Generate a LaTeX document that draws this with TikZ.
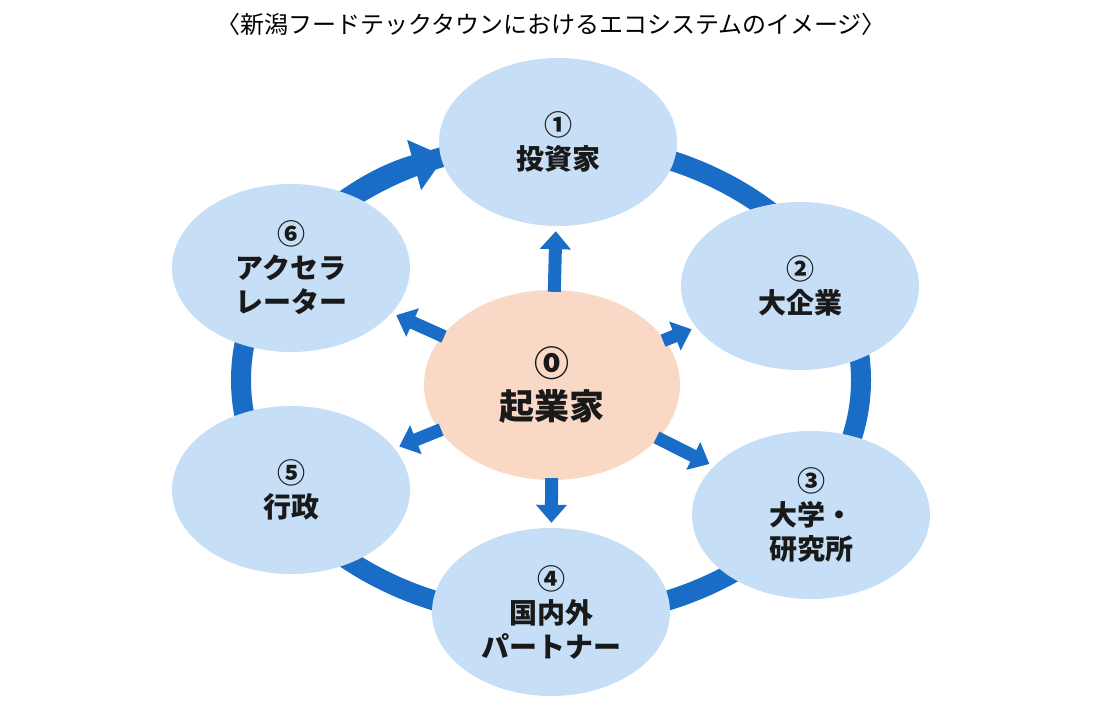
\documentclass[tikz,border=0pt]{standalone}
\usepackage{fontspec}
\setmainfont{Noto Sans CJK JP}
\usetikzlibrary{arrows.meta,shapes.geometric}
\definecolor{ringblue}{HTML}{1A6DC6}
\definecolor{cellblue}{HTML}{C6DFF6}
\definecolor{corepeach}{HTML}{F9D9C6}
\tikzset{
  actor/.style={draw=none,fill=cellblue,ellipse,minimum width=238pt,minimum height=168pt,
    inner sep=0pt,align=center,font=\bfseries\fontsize{28}{34}\selectfont,text=black!90},
  core/.style={actor,fill=corepeach,minimum width=256pt,minimum height=190pt,
    font=\bfseries\fontsize{35}{43}\selectfont},
  spoke/.style={ringblue,line width=13pt,shorten <=-2pt,shorten >=5pt,
    -{Triangle[width=30pt,length=18pt]}}
}
\begin{document}
\begin{tikzpicture}[x=1pt,y=-1pt]
\useasboundingbox (0,0) rectangle (1100,712);
% title
\node (title) at (551,24) {\fontsize{24}{28}\selectfont 〈新潟フードテックタウンにおけるエコシステムのイメージ〉};
% ring behind the actors
\draw[ringblue,line width=20pt] (551,380) ellipse [x radius=310,y radius=238];
\draw[ringblue,line width=20pt,-{Triangle[width=50pt,length=32pt]}]
  (551,380) ++(200:310 and 238) arc [start angle=200,end angle=250,x radius=310,y radius=238];
% actors
\node[actor] (e1) at (558,142) {①\\投資家};
\node[actor] (e2) at (800,286) {②\\大企業};
\node[actor] (e3) at (811,515) {③\\大学・\\研究所};
\node[actor] (e4) at (551,612) {④\\国内外\\パートナー};
\node[actor] (e5) at (291,490) {⑤\\行政};
\node[actor] (e6) at (291,268) {⑥\\アクセラ\\レーター};
\node[core] (c) at (552,385) {⓪\\起業家};
% spokes
\foreach \t in {e1,e2,e3,e4,e5,e6}
  \draw[spoke] (c) -- (\t);
\end{tikzpicture}
\end{document}
